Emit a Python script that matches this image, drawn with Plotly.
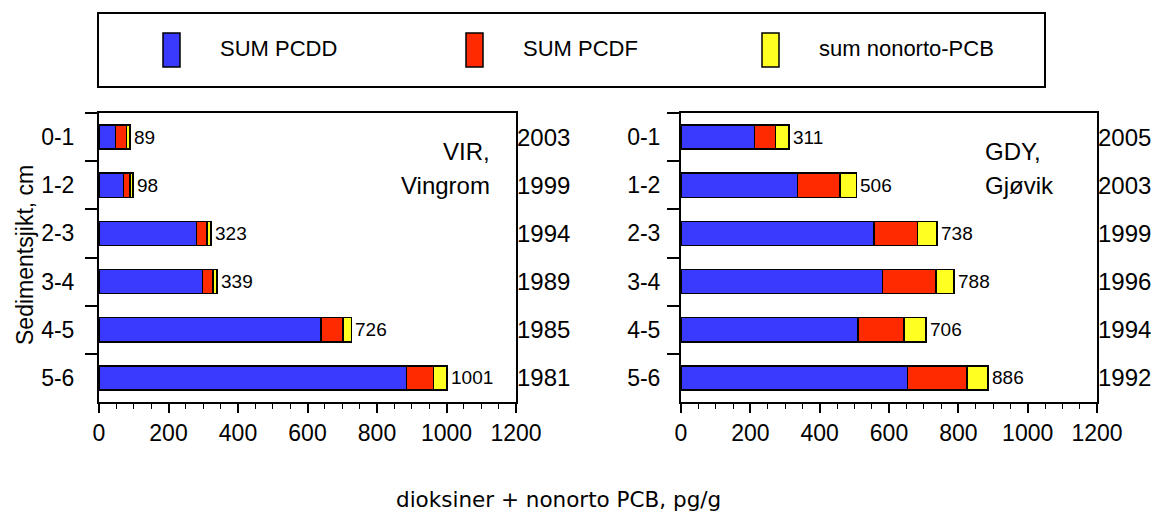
import plotly.graph_objects as go

# data
layers = ["0-1", "1-2", "2-3", "3-4", "4-5", "5-6"]

vir_pcdd = [47, 70, 280, 298, 639, 885]
vir_pcdf = [32, 19, 31, 30, 63, 78]
vir_pcb = [10, 9, 12, 11, 24, 38]
vir_years = ["2003", "1999", "1994", "1989", "1985", "1981"]

gdy_pcdd = [212, 336, 556, 581, 510, 654]
gdy_pcdf = [61, 123, 126, 155, 133, 171]
gdy_pcb = [38, 47, 56, 52, 63, 61]
gdy_years = ["2005", "2003", "1999", "1996", "1994", "1992"]

series_names = ["SUM PCDD", "SUM PCDF", "sum nonorto-PCB"]
colors = ["#3a3aff", "#ff2a00", "#ffff22"]

W, H = 1162, 514
FONT = "Liberation Sans, Arial, sans-serif"

fig = go.Figure()

panels = [
    ("x", "y", [vir_pcdd, vir_pcdf, vir_pcb], vir_years),
    ("x2", "y2", [gdy_pcdd, gdy_pcdf, gdy_pcb], gdy_years),
]

annotations = []

for xa, ya, parts, years in panels:
    for name, vals, col in zip(series_names, parts, colors):
        fig.add_trace(go.Bar(
            x=vals, y=layers, orientation="h", name=name,
            xaxis=xa, yaxis=ya, width=0.5,
            marker=dict(color=col, line=dict(color="black", width=1.5)),
            showlegend=False,
        ))
    # total at the end of each bar
    totals = [sum(v) for v in zip(*parts)]
    for lay, t in zip(layers, totals):
        annotations.append(dict(
            x=t, y=lay, xref=xa, yref=ya, text=str(t), showarrow=False,
            xanchor="left", yanchor="middle", xshift=2,
            font=dict(size=19, family=FONT, color="black"),
        ))

dom_left = [99 / W, 516 / W]
dom_right = [681 / W, 1097 / W]
dom_y = [1 - 402 / H, 1 - 113 / H]

xcommon = dict(
    range=[0, 1200], dtick=200, ticks="outside", ticklen=9, tickwidth=1.5,
    tickcolor="black", showline=True, linecolor="black", linewidth=2, mirror=True,
    showgrid=False, zeroline=False, tickfont=dict(size=23, family=FONT, color="black"),
    minor=dict(dtick=50, ticks="outside", ticklen=5, tickcolor="black", tickwidth=1),
    fixedrange=True, automargin=False,
)
ycommon = dict(
    type="category", autorange="reversed", ticks="outside", ticklen=12, tickwidth=1.5,
    tickcolor="black", tickson="boundaries", showline=True, linecolor="black",
    linewidth=2, mirror=True, showgrid=False, automargin=False, fixedrange=True,
    tickfont=dict(size=23, family=FONT, color="black"),
)

fig.update_layout(
    width=W, height=H, autosize=False,
    margin=dict(l=0, r=0, t=0, b=0, autoexpand=False),
    paper_bgcolor="white", plot_bgcolor="white",
    barmode="stack", bargap=0.5,
    xaxis=dict(domain=dom_left, anchor="y", **xcommon),
    yaxis=dict(domain=dom_y, anchor="x", ticklabelstandoff=18, **ycommon),
    xaxis2=dict(domain=dom_right, anchor="y2", **xcommon),
    yaxis2=dict(domain=dom_y, anchor="x2", ticklabelstandoff=14, **ycommon),
    showlegend=False,
)

# year labels on the right of each panel
for (xa, ya, parts, years), xr in zip(panels, [dom_left[1], dom_right[1]]):
    for lay, yr in zip(layers, years):
        annotations.append(dict(
            x=xr - 1 / W, y=lay, xref="paper", yref=ya, text=yr, showarrow=False,
            xanchor="left", yanchor="middle", font=dict(size=24, family=FONT, color="black"),
        ))

# site names
site_text = [("VIR,", 492, "right", 151), ("Vingrom", 492, "right", 185),
             ("GDY,", 983, "left", 151), ("Gjøvik", 983, "left", 185)]
for txt, px, anc, py in site_text:
    annotations.append(dict(
        x=px / W, y=1 - py / H, xref="paper", yref="paper", text=txt,
        showarrow=False, xanchor=anc, yanchor="middle",
        font=dict(size=24, family=FONT, color="black"),
    ))

annotations.append(dict(
    x=25 / W, y=1 - 255 / H, xref="paper", yref="paper", textangle=-90,
    text="Sedimentsjikt, cm", showarrow=False, xanchor="center", yanchor="middle",
    font=dict(size=23, family=FONT, color="black"),
))
annotations.append(dict(
    x=558 / W, y=1 - 499 / H, xref="paper", yref="paper",
    text="dioksiner + nonorto PCB, pg/g", showarrow=False,
    xanchor="center", yanchor="middle", font=dict(size=21.5, family="DejaVu Sans", color="black"),
))

# legend box drawn by hand
shapes = [dict(type="rect", xref="paper", yref="paper",
               x0=98 / W, x1=1045 / W, y0=1 - 87 / H, y1=1 - 13 / H,
               line=dict(color="black", width=2), fillcolor="white", layer="below")]
leg_x = [163, 466, 762]
for lx, name, col in zip(leg_x, series_names, colors):
    shapes.append(dict(type="rect", xref="paper", yref="paper",
                       x0=lx / W, x1=(lx + 17) / W, y0=1 - 67 / H, y1=1 - 33 / H,
                       line=dict(color="black", width=1.5), fillcolor=col))
    annotations.append(dict(
        x=(lx + 55) / W, y=1 - 48 / H, xref="paper", yref="paper", text=name,
        showarrow=False, xanchor="left", yanchor="middle",
        font=dict(size=22, family=FONT, color="black"),
    ))

fig.update_layout(annotations=annotations, shapes=shapes)

fig.write_html("out.html", config={"displayModeBar": False},
               post_script="document.body.style.margin='0';")
